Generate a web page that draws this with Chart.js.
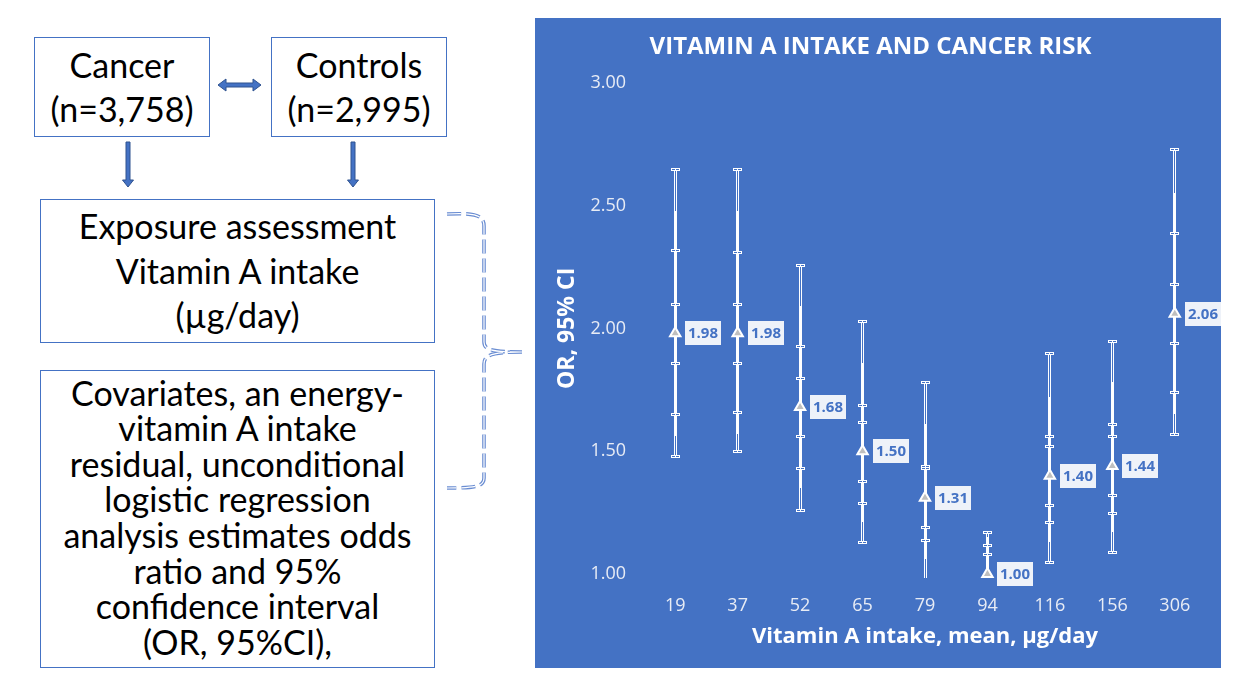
<!DOCTYPE html>
<html>
<head>
<meta charset="utf-8">
<script src="https://cdn.jsdelivr.net/npm/chart.js@4"></script>
<style>
    body { margin: 0; background: #fff; width: 1248px; height: 682px; position: relative; overflow: hidden; font-family: Lato, "Noto Sans", sans-serif; color: #000; }
    .box { position: absolute; border: 1px solid #4472C4; box-sizing: border-box; display: flex; flex-direction: column; justify-content: center; align-items: center; text-align: center; white-space: nowrap; }
    #chartWrap { position: absolute; left: 535px; top: 18px; width: 686px; height: 650px; background: #4472C4; }
    svg { position: absolute; left: 0; top: 0; }
</style>
</head>
<body>
<div class="box" style="left:34px;top:37px;width:176px;height:100px;font-size:34px;line-height:44px;">
    <div>Cancer</div><div>(n=3,758)</div>
</div>
<div class="box" style="left:271px;top:37px;width:176px;height:100px;font-size:34px;line-height:44px;">
    <div>Controls</div><div>(n=2,995)</div>
</div>
<div class="box" style="left:40px;top:199px;width:395px;height:144px;font-size:34px;line-height:44.5px;">
    <div>Exposure assessment</div><div>Vitamin A intake</div><div>(µg/day)</div>
</div>
<div class="box" style="left:40px;top:370px;width:395px;height:298px;font-size:34px;line-height:35.6px;padding-bottom:4px;">
    <div>Covariates, an energy-</div>
    <div>vitamin A intake</div>
    <div>residual, unconditional</div>
    <div>logistic regression</div>
    <div>analysis estimates odds</div>
    <div>ratio and 95%</div>
    <div>confidence interval</div>
    <div>(OR, 95%CI),</div>
</div>

<svg width="535" height="682">
    <!-- double arrow between groups -->
    <path d="M218,85 L226,79 L226,83 L253,83 L253,79 L261,85 L253,91 L253,87 L226,87 L226,91 Z" fill="#4472C4" stroke="#2F528F" stroke-width="1"/>
    <!-- down arrows -->
    <path d="M126,142 L130,142 L130,180 L133.5,180 L128,187 L122.5,180 L126,180 Z" fill="#4472C4" stroke="#2F528F" stroke-width="1"/>
    <path d="M351,142 L355,142 L355,180 L358.5,180 L353,187 L347.5,180 L351,180 Z" fill="#4472C4" stroke="#2F528F" stroke-width="1"/>
    <!-- dashed brace -->
    <path d="M447,214 C472,213 484,214 484,226 L484,342 C484,350 492,352 522,352 M522,352 C492,352 484,355 484,364 L484,478 C484,487 474,488 447,488"
          fill="none" stroke="#6A8DD2" stroke-width="3.6" stroke-dasharray="14 5"/>
    <path d="M447,214 C472,213 484,214 484,226 L484,342 C484,350 492,352 522,352 M522,352 C492,352 484,355 484,364 L484,478 C484,487 474,488 447,488"
          fill="none" stroke="#fff" stroke-width="1.2" stroke-dasharray="14 5"/>
</svg>

<div id="chartWrap"><canvas id="orChart"></canvas></div>

<script>
// mean vitamin A intake per group (µg/day)
const categories = ['19', '37', '52', '65', '79', '94', '116', '156', '306'];
// odds ratios
const oddsRatios = [1.98, 1.98, 1.68, 1.50, 1.31, 1.00, 1.40, 1.44, 2.06];
// outer interval (capped ends)
const ciLow  = [1.48, 1.50, 1.26, 1.13, 0.97, 0.85, 1.05, 1.09, 1.57];
const ciHigh = [2.65, 2.65, 2.26, 2.03, 1.78, 1.17, 1.90, 1.95, 2.73];
// solid part of the bar
const solidLow  = [1.56, 1.57, 1.35, 1.21, 1.06, 0.90, 1.13, 1.17, 1.65];
const solidHigh = [2.48, 2.48, 2.09, 1.86, 1.61, 1.15, 1.72, 1.78, 2.55];
// inner whisker ticks
const innerLow  = [1.86, 1.86, 1.56, 1.38, 1.19, 0.92, 1.28, 1.32, 1.94];
const innerHigh = [2.10, 2.10, 1.80, 1.62, 1.43, 1.08, 1.52, 1.56, 2.18];
const midLow    = [1.65, 1.66, 1.43, 1.29, 1.14, 0.88, 1.21, 1.25, 1.74];
const midHigh   = [2.32, 2.31, 1.93, 1.69, 1.44, 1.12, 1.56, 1.61, 2.39];
// y axis
const yMin = 1.0, yMax = 3.0, yStep = 0.5;

const BLUE = '#4472C4';

function hollowTick(ctx, x, y) {
    y = Math.round(y);
    ctx.fillStyle = '#fff';
    ctx.fillRect(x - 4, y - 1, 9, 3);
    ctx.fillStyle = BLUE;
    ctx.fillRect(x - 3, y, 7, 1);
    ctx.fillStyle = '#fff';
    ctx.fillRect(x, y, 1, 1);
}

const errorBars = {
    id: 'errorBars',
    beforeDatasetsDraw(chart) {
        const ctx = chart.ctx;
        const y = chart.scales.y;
        const area = chart.chartArea;
        const meta = chart.getDatasetMeta(0);
        ctx.save();
        ctx.beginPath();
        ctx.rect(area.left, area.top - 10, area.right - area.left, area.bottom - area.top + 14);
        ctx.clip();
        meta.data.forEach((pt, i) => {
            const x = Math.floor(pt.x);
            const top = Math.round(y.getPixelForValue(ciHigh[i]));
            const bot = Math.round(y.getPixelForValue(ciLow[i]));
            ctx.fillStyle = '#fff';
            ctx.fillRect(x - 1, top, 3, bot - top);
            // hollow ends of the bar
            ctx.fillStyle = BLUE;
            const sTop = Math.round(y.getPixelForValue(solidHigh[i]));
            const sBot = Math.round(y.getPixelForValue(solidLow[i]));
            ctx.fillRect(x, top, 1, sTop - top);
            ctx.fillRect(x, sBot, 1, bot - sBot);
            [ciHigh[i], ciLow[i], innerLow[i], innerHigh[i], midLow[i], midHigh[i]].forEach(v => {
                hollowTick(ctx, x, y.getPixelForValue(v));
            });
        });
        ctx.restore();
    },
    afterDatasetsDraw(chart) {
        const ctx = chart.ctx;
        const meta = chart.getDatasetMeta(0);
        ctx.save();
        ctx.font = 'bold 15px "Open Sans", sans-serif';
        ctx.textAlign = 'center';
        ctx.textBaseline = 'middle';
        meta.data.forEach((pt, i) => {
            const bx = Math.round(pt.x) + 10, by = Math.round(pt.y) - 12;
            ctx.fillStyle = '#EEF2F9';
            ctx.fillRect(bx, by, 36, 24);
            ctx.fillStyle = BLUE;
            ctx.fillText(oddsRatios[i].toFixed(2), bx + 18, by + 12.5);
        });
        ctx.restore();
    }
};

const ctx = document.getElementById('orChart');

const data = {
    labels: categories,
    datasets: [{
        label: 'OR',
        data: oddsRatios,
        showLine: false,
        pointStyle: 'triangle',
        pointRadius: 6,
        pointHoverRadius: 6,
        pointBackgroundColor: '#BFBFBF',
        pointBorderColor: '#fff',
        pointBorderWidth: 2,
        clip: false
    }]
};

const options = {
    responsive: true,
    maintainAspectRatio: false,
    animation: false,
    layout: { padding: { left: 0, right: 15, top: 0, bottom: 0 } },
    plugins: {
        legend: { display: false },
        tooltip: { enabled: false },
        title: {
            display: true,
            text: 'VITAMIN A INTAKE AND CANCER RISK',
            color: '#fff',
            padding: { top: 15, bottom: 21 },
            font: { family: '"Open Sans", sans-serif', size: 24, weight: 'bold' }
        }
    },
    scales: {
        x: {
            offset: true,
            grid: { display: false },
            border: { display: false },
            ticks: {
                color: '#E8ECF5',
                padding: 13,
                font: { family: '"Open Sans", sans-serif', size: 18 }
            },
            title: {
                display: true,
                text: 'Vitamin A intake, mean, µg/day',
                color: '#fff',
                padding: { top: 0, bottom: 18 },
                font: { family: '"Open Sans", sans-serif', size: 22, weight: 'bold' }
            },
            afterFit(scale) { scale.height = 94; }
        },
        y: {
            min: yMin,
            max: yMax,
            grid: { display: false },
            border: { display: false },
            ticks: {
                stepSize: yStep,
                color: '#E8ECF5',
                padding: 10,
                font: { family: '"Open Sans", sans-serif', size: 18 },
                callback: (v) => v.toFixed(2)
            },
            title: {
                display: true,
                text: 'OR, 95% CI',
                color: '#fff',
                padding: { top: 19, bottom: 0 },
                font: { family: '"Open Sans", sans-serif', size: 23, weight: 'bold' }
            },
            afterFit(scale) { scale.width = 109; }
        }
    }
};

const chart = new Chart(ctx, {
    type: 'line',
    data: data,
    options: options,
    plugins: [errorBars]
});
</script>
</body>
</html>
